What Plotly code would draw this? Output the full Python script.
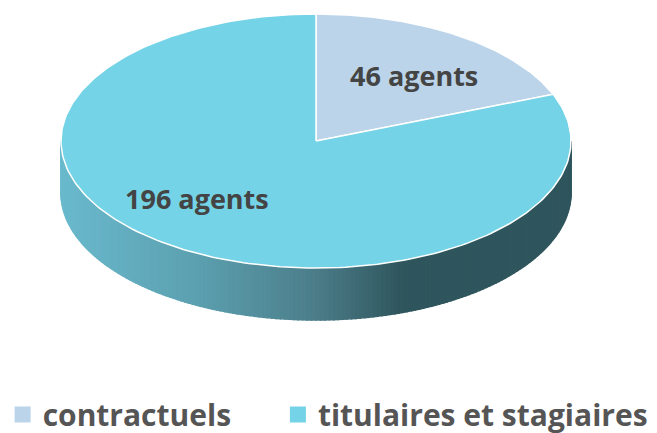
import numpy as np
import plotly.graph_objects as go

categories = ["contractuels", "titulaires et stagiaires"]
values = [46, 196]
labels = ["46 agents", "196 agents"]
colors = ["#BBD4EA", "#74D3E6"]

CX, CY, RX, RY, DEPTH = 316, 141, 255, 127, 52
LABEL_POS = [(414, 75), (197, 198)]
FONT = "Open Sans"
TEXT = "#444444"
SIDE_STOPS = [(62, (106, 186, 205)), (200, (92, 160, 176)), (316, (76, 126, 138)), (405, (47, 85, 93)), (572, (47, 86, 94))]


def pt(theta):
    return CX + RX * np.sin(theta), CY - RY * np.cos(theta)


def side_color(x):
    xs = [s[0] for s in SIDE_STOPS]
    c = [np.interp(x, xs, [s[1][i] for s in SIDE_STOPS]) for i in range(3)]
    return "rgb(%d,%d,%d)" % tuple(c)


fig = go.Figure()

# extruded rim, drawn as thin vertical strips so the shade runs left to right
edges = np.radians(np.linspace(270, 90, 181))
for a, b in zip(edges[:-1], edges[1:]):
    xa, ya = pt(a)
    xb, yb = pt(b)
    col = side_color((xa + xb) / 2)
    fig.add_trace(go.Scatter(
        x=[xa, xb, xb, xa, xa], y=[ya, yb, yb + DEPTH, ya + DEPTH, ya],
        mode="lines", fill="toself", fillcolor=col,
        line=dict(color=col, width=1.5), hoverinfo="skip", showlegend=False))

# top face
fractions = np.cumsum([0] + values) / sum(values)
for i in range(len(values)):
    th = np.linspace(fractions[i], fractions[i + 1], 240) * 2 * np.pi
    ex, ey = pt(th)
    fig.add_trace(go.Scatter(
        x=np.r_[CX, ex, CX], y=np.r_[CY, ey, CY],
        mode="lines", fill="toself", fillcolor=colors[i],
        line=dict(color="#FFFFFF", width=1.5), hoverinfo="skip", showlegend=False))
    fig.add_annotation(x=LABEL_POS[i][0], y=LABEL_POS[i][1], text="<b>%s</b>" % labels[i], showarrow=False,
                       font=dict(family=FONT, size=27, color=TEXT))

# legend entries
for i, name in enumerate(categories):
    fig.add_trace(go.Scatter(
        x=[None], y=[None], mode="markers", name="<b>%s</b>" % name,
        marker=dict(symbol="square", size=16, color=colors[i]),
        legend="legend" if i == 0 else "legend2"))

leg = dict(orientation="h", xanchor="left", yanchor="middle", bgcolor="rgba(0,0,0,0)",
           font=dict(family=FONT, size=30, color="#555555"), itemwidth=30)
fig.update_layout(
    width=657, height=433, margin=dict(l=0, r=0, t=0, b=0, autoexpand=False),
    paper_bgcolor="white", plot_bgcolor="white",
    xaxis=dict(range=[0, 657], visible=False, fixedrange=True),
    yaxis=dict(range=[433, 0], visible=False, fixedrange=True),
    legend=dict(x=0.004, y=0.043, **leg),
    legend2=dict(x=0.423, y=0.043, **leg),
    showlegend=True,
)
fig.write_html("out.html", config=dict(displayModeBar=False),
               post_script="document.body.style.margin='0';document.body.style.overflow='hidden';")
